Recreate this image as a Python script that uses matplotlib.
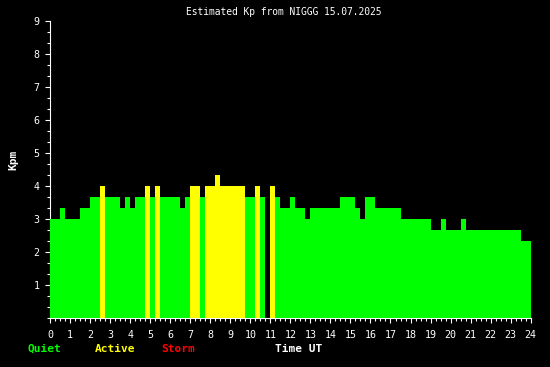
import numpy as np
import matplotlib
matplotlib.use('Agg')
import matplotlib.pyplot as plt
from matplotlib.ticker import MultipleLocator

# estimated Kp, 15 min steps from 00:00 UT (0 = no data)
kp = [3.0, 3.0, 3.33, 3.0, 3.0, 3.0, 3.33, 3.33, 3.67, 3.67,
      4.0, 3.67, 3.67, 3.67, 3.33, 3.67, 3.33, 3.67, 3.67, 4.0,
      3.67, 4.0, 3.67, 3.67, 3.67, 3.67, 3.33, 3.67, 4.0, 4.0,
      3.67, 4.0, 4.0, 4.33, 4.0, 4.0, 4.0, 4.0, 4.0, 3.67,
      3.67, 4.0, 3.67, 0.0, 4.0, 3.67, 3.33, 3.33, 3.67, 3.33,
      3.33, 3.0, 3.33, 3.33, 3.33, 3.33, 3.33, 3.33, 3.67, 3.67,
      3.67, 3.33, 3.0, 3.67, 3.67, 3.33, 3.33, 3.33, 3.33, 3.33,
      3.0, 3.0, 3.0, 3.0, 3.0, 3.0, 2.67, 2.67, 3.0, 2.67,
      2.67, 2.67, 3.0, 2.67, 2.67, 2.67, 2.67, 2.67, 2.67, 2.67,
      2.67, 2.67, 2.67, 2.67, 2.33, 2.33]
hours = np.arange(len(kp)) * 0.25
hour_ticks = list(range(0, 25))
kp_ticks = list(range(1, 10))

quiet_col = '#00ff00'
active_col = '#ffff00'
storm_col = '#ff0000'

def kp_colour(v):
    if v >= 5:
        return storm_col
    if v >= 4:
        return active_col
    return quiet_col

mono = 'DejaVu Sans Mono'

fig = plt.figure(figsize=(5.5, 3.67), dpi=100, facecolor='black')
ax = fig.add_axes([50/550, 1 - 317.7/367, 480.7/550, 297/367])
ax.set_facecolor('black')

ax.bar(hours, kp, width=0.25, align='edge', color=[kp_colour(v) for v in kp],
       linewidth=0, antialiased=False, zorder=3)

ax.set_xlim(0, 24)
ax.set_ylim(0, 9)
ax.set_xticks(hour_ticks)
ax.set_yticks(kp_ticks)
ax.xaxis.set_minor_locator(MultipleLocator(0.25))
ax.yaxis.set_minor_locator(MultipleLocator(1/3))

for s in ['top', 'right']:
    ax.spines[s].set_visible(False)
for s in ['left', 'bottom']:
    ax.spines[s].set_color('white')
    ax.spines[s].set_linewidth(0.8)

ax.tick_params(which='major', colors='white', length=3.6, width=0.8,
               labelsize=7.2, pad=4)
ax.tick_params(which='minor', colors='white', length=2.2, width=0.8)
ax.tick_params(axis='x', which='major', pad=5.5)
for lab in ax.get_xticklabels() + ax.get_yticklabels():
    lab.set_family(mono)

fig.text(284/550, 1 - 12/367, 'Estimated Kp from NIGGG 15.07.2025', color='white',
         family=mono, fontsize=6.9, ha='center', va='center')
fig.text(13/550, 1 - 160/367, 'Kpm', color='white', family=mono, fontsize=8,
         fontweight='bold', rotation=90, ha='center', va='center')

fig.text(28/550, 1 - 349/367, 'Quiet', color=quiet_col, family=mono, fontsize=8,
         fontweight='bold', ha='left', va='center')
fig.text(95/550, 1 - 349/367, 'Active', color=active_col, family=mono, fontsize=8,
         fontweight='bold', ha='left', va='center')
fig.text(161/550, 1 - 349/367, 'Storm', color=storm_col, family=mono, fontsize=8,
         fontweight='bold', ha='left', va='center')
fig.text(275/550, 1 - 349/367, 'Time UT', color='white', family=mono, fontsize=8,
         fontweight='bold', ha='left', va='center')

fig.savefig('out.png', dpi=100, facecolor='black')
